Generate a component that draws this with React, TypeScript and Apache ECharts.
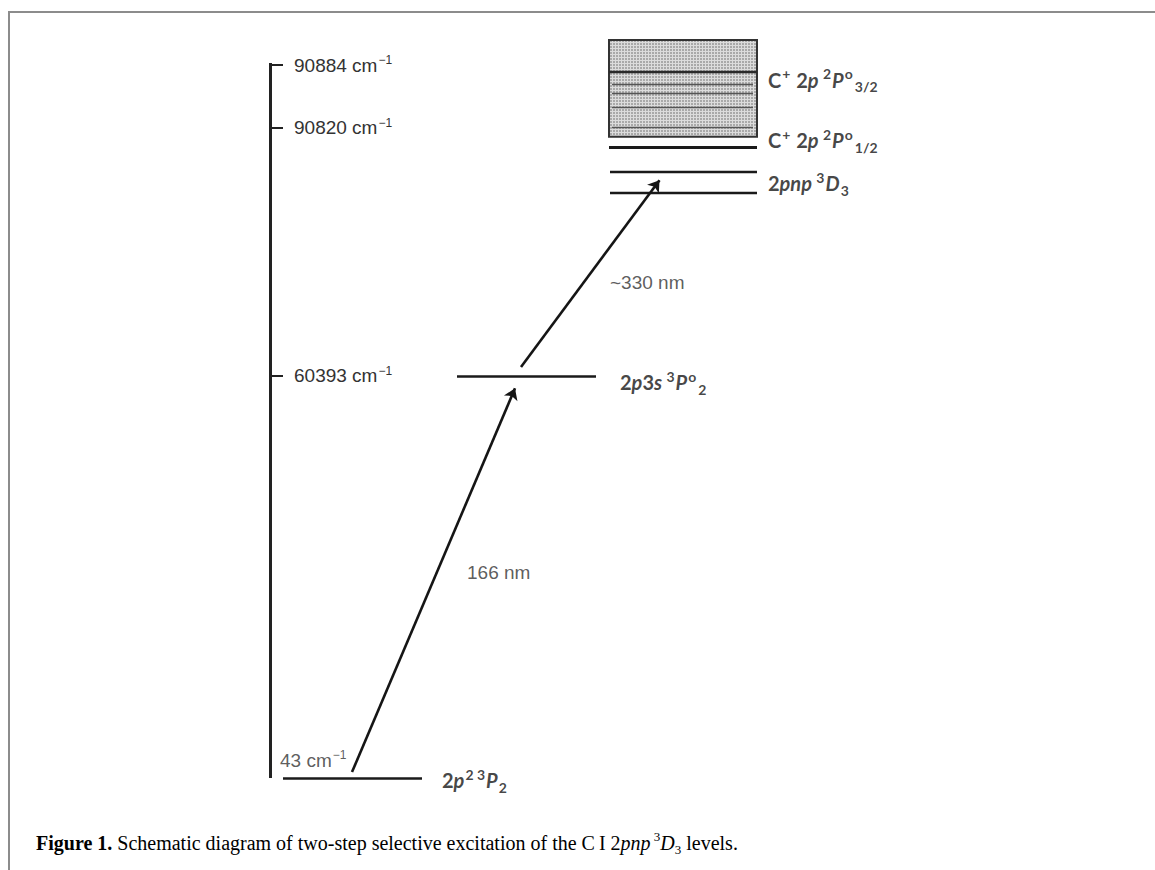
import React, { useEffect, useRef } from 'react';
import * as echarts from 'echarts';

// Schematic diagram units: x = 0 at the energy axis, 100 at the right; y = 0 at the ground level, 100 at the top of the continuum box.
const tickValues = [96.6, 88.1, 54.5];
const tickLabels = ['90884', '90820', '60393'];
const axisTop = 96.9;

// discrete levels: [x start, x end, y]
const levelX0 = [2.6, 37.4, 67.8, 68.0, 68.0];
const levelX1 = [30.4, 65.2, 97.4, 97.4, 97.4];
const levelY = [0, 54.5, 85.5, 82.2, 79.3];

// continuum (C+ ionisation) box: x range and y range
const boxX = [67.8, 97.4];
const boxY = [86.9, 100];
const ionLevelY = [95.7];
const autoIonY = [94.0, 92.8, 90.9, 88.2];
const autoIonX = [68.4, 96.6];

// excitation arrows
const arrowFrom = [[16.4, 0.8], [50.2, 55.7]];
const arrowTo = [[49.0, 52.8], [77.9, 81.0]];
const arrowLabels = ['166 nm', '~330 nm'];
const arrowLabelPos = [[39.4, 27.8], [68.0, 67.1]];

// level labels
const levelLabelText = [
  '{n|2}{i|p}{sp|2 3}{i|P}{sb|2}',
  '{n|2}{i|p}{n|3}{i|s}{sp| 3}{i|P}{sp|o}{sb|2}',
  '{n|C}{sp|+}{n| 2}{i|p}{sp| 2}{i|P}{sp|o}{sb|3/2}',
  '{n|C}{sp|+}{n| 2}{i|p}{sp| 2}{i|P}{sp|o}{sb|1/2}',
  '{n|2}{i|pnp}{sp| 3}{i|D}{sb|3}',
];
const levelLabelPos = [[34.4, -0.3], [70.0, 53.6], [99.6, 94.6], [99.6, 86.4], [99.6, 80.6]];

const groundLabel = '43';
const groundLabelPos = [2.0, 2.4];

const caption = [
  '{b|Figure 1.}{r| Schematic diagram of two-step selective excitation of the C\u2009I 2}',
  '{i|pnp}{sup| 3}{i|D}{sub|3}{r| levels.}',
];

const SANS = 'Liberation Sans, Arial, sans-serif';
const LAB = 'Lato, Noto Sans, sans-serif';
const SERIF = 'Liberation Serif, Times New Roman, serif';

const numRich = {
  v: { fontFamily: SANS, fontSize: 19, color: '#333', lineHeight: 26, verticalAlign: 'middle' },
  s: { fontFamily: SANS, fontSize: 12, color: '#333', lineHeight: 14, verticalAlign: 'top', padding: [2, 0, 0, 1] },
};

const levelRich = {
  n: { fontFamily: LAB, fontWeight: 'bold', fontSize: 20, color: '#151515', lineHeight: 28, verticalAlign: 'middle' },
  i: { fontFamily: LAB, fontWeight: 'bold', fontStyle: 'italic', fontSize: 20, color: '#151515', lineHeight: 28, verticalAlign: 'middle' },
  sp: { fontFamily: LAB, fontWeight: 'bold', fontSize: 14, color: '#151515', lineHeight: 14, verticalAlign: 'top', padding: [1, 1, 0, 1] },
  sb: { fontFamily: LAB, fontWeight: 'bold', fontSize: 14, color: '#151515', lineHeight: 14, verticalAlign: 'bottom', padding: [0, 0, 0, 1] },
};

export default function App() {
  const ref = useRef<HTMLDivElement>(null);
  useEffect(() => {
    document.body.style.margin = '0';
    const chart = echarts.init(ref.current!, null, { renderer: 'svg' });

    const c = document.createElement('canvas');
    c.width = 3;
    c.height = 3;
    const ctx = c.getContext('2d')!;
    ctx.fillStyle = '#a9a9a9';
    ctx.fillRect(0, 0, 3, 3);
    ctx.fillStyle = '#dcdcdc';
    ctx.fillRect(0, 0, 3, 1);
    ctx.fillRect(0, 0, 1, 3);
    const pattern = { image: c.toDataURL(), repeat: 'repeat', imageWidth: 3, imageHeight: 3 };

    const levelWidths = [2.6, 2.6, 3, 2.4, 2.4];

    const option: any = {
      animation: false,
      backgroundColor: '#fff',
      grid: { left: 270, top: 40, width: 500, height: 738 },
      xAxis: { type: 'value', min: 0, max: 100, show: false },
      yAxis: {
        type: 'value',
        min: 0,
        max: 100,
        position: 'left',
        axisLine: { show: false },
        splitLine: { show: false },
        axisTick: {
          show: true,
          inside: true,
          length: 13,
          customValues: tickValues,
          lineStyle: { color: '#222', width: 2 },
        },
        axisLabel: {
          show: true,
          inside: true,
          margin: 24,
          customValues: tickValues,
          formatter: (v: number) => {
            const i = tickValues.indexOf(v);
            return `{v|${i >= 0 ? tickLabels[i] : ''} cm}{s|\u22121}`;
          },
          rich: numRich,
        },
      },
      graphic: [
        { type: 'line', shape: { x1: 8, y1: 12, x2: 1155, y2: 12 }, style: { stroke: '#8c8c8c', lineWidth: 2 } },
        { type: 'line', shape: { x1: 9, y1: 11, x2: 9, y2: 870 }, style: { stroke: '#8c8c8c', lineWidth: 2 } },
        {
          type: 'text',
          left: 36,
          top: 830,
          style: {
            text: caption.join(''),
            rich: {
              b: { fontFamily: SERIF, fontWeight: 'bold', fontSize: 20, color: '#111', lineHeight: 26, verticalAlign: 'middle' },
              r: { fontFamily: SERIF, fontSize: 20, color: '#111', lineHeight: 26, verticalAlign: 'middle' },
              i: { fontFamily: SERIF, fontStyle: 'italic', fontSize: 20, color: '#111', lineHeight: 26, verticalAlign: 'middle' },
              sup: { fontFamily: SERIF, fontSize: 13, color: '#111', lineHeight: 13, verticalAlign: 'top' },
              sub: { fontFamily: SERIF, fontSize: 13, color: '#111', lineHeight: 13, verticalAlign: 'bottom' },
            },
          },
        },
      ],
      series: [
        {
          type: 'custom',
          clip: false,
          silent: true,
          data: [[boxX[0], boxX[1], boxY[0], boxY[1]]],
          renderItem: (params: any, api: any) => {
            const p0 = api.coord([api.value(0), api.value(3)]);
            const p1 = api.coord([api.value(1), api.value(2)]);
            const shape = { x: p0[0], y: p0[1], width: p1[0] - p0[0], height: p1[1] - p0[1] };
            return {
              type: 'group',
              children: [
                { type: 'rect', shape, style: { fill: '#c0c0c0' } },
                { type: 'rect', shape, style: { fill: pattern, stroke: '#333', lineWidth: 2 } },
              ],
            };
          },
        },
        {
          type: 'lines',
          coordinateSystem: 'cartesian2d',
          clip: false,
          silent: true,
          symbol: 'none',
          lineStyle: { opacity: 1 },
          data: [
            { coords: [[0, 0], [0, axisTop]], lineStyle: { width: 3, color: '#222', opacity: 1 } },
            ...levelY.map((y, i) => ({
              coords: [[levelX0[i], y], [levelX1[i], y]],
              lineStyle: { width: levelWidths[i], color: '#1a1a1a', opacity: 1 },
            })),
            ...ionLevelY.map((y) => ({
              coords: [[boxX[0], y], [boxX[1], y]],
              lineStyle: { width: 2.4, color: '#2a2a2a', opacity: 1 },
            })),
            ...autoIonY.map((y) => ({
              coords: [[autoIonX[0], y], [autoIonX[1], y]],
              lineStyle: { width: 1.3, color: '#555', opacity: 1 },
            })),
          ],
        },
        {
          type: 'lines',
          coordinateSystem: 'cartesian2d',
          clip: false,
          silent: true,
          symbol: ['none', 'arrow'],
          symbolSize: [0, 11],
          lineStyle: { width: 2.6, color: '#151515', opacity: 1 },
          data: arrowFrom.map((p, i) => ({ coords: [p, arrowTo[i]] })),
        },
        {
          type: 'scatter',
          silent: true,
          clip: false,
          symbolSize: 0,
          data: levelLabelPos.map((p, i) => [p[0], p[1], i]),
          label: {
            show: true,
            position: 'right',
            distance: 0,
            formatter: (p: any) => levelLabelText[p.data[2]],
            rich: levelRich,
          },
        },
        {
          type: 'scatter',
          silent: true,
          clip: false,
          symbolSize: 0,
          data: arrowLabelPos.map((p, i) => [p[0], p[1], i]),
          label: {
            show: true,
            position: 'right',
            distance: 0,
            formatter: (p: any) => `{v|${arrowLabels[p.data[2]]}}`,
            rich: numRich,
          },
        },
        {
          type: 'scatter',
          silent: true,
          clip: false,
          symbolSize: 0,
          data: [[groundLabelPos[0], groundLabelPos[1]]],
          label: {
            show: true,
            position: 'right',
            distance: 0,
            formatter: () => `{v|${groundLabel} cm}{s|\u22121}`,
            rich: numRich,
          },
        },
      ],
    };
    chart.setOption(option);
    return () => chart.dispose();
  }, []);
  return <div ref={ref} style={{ width: 1155, height: 870 }} />;
}
